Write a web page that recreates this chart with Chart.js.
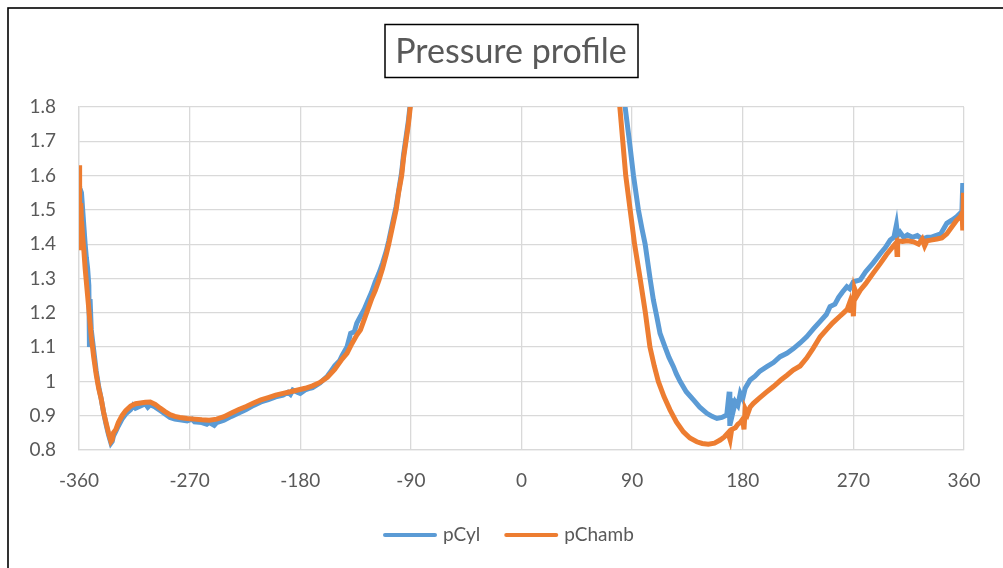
<!DOCTYPE html>
<html>
<head>
<meta charset="utf-8">
<script src="https://cdn.jsdelivr.net/npm/chart.js@4/dist/chart.umd.min.js"></script>
<style>
  html, body { margin: 0; padding: 0; background: #ffffff; }
  #wrap { width: 1003px; height: 568px; position: relative; }
</style>
</head>
<body>
<div id="wrap"><canvas id="c" width="1003" height="568"></canvas></div>
<script>
// Crank angle (deg) and pressure samples for the cylinder trace
const cylAngle = [
  -360, -359.5, -359, -358, -357, -356, -355, -354, -353, -352, -351.5, -351, -350, -348, -346, -344, -342, -340,
  -338, -336, -334, -333, -332, -330, -328, -325, -322, -318, -316, -314, -310, -306, -304, -302, -298, -294,
  -290, -286, -282, -278, -272, -268, -266, -260, -256, -254, -250, -248, -242, -236, -230, -224, -218, -212,
  -206, -200, -194, -190, -188, -186, -182, -180, -176, -172, -170, -164, -158, -155, -152, -148, -146, -142,
  -139, -136, -134, -131, -128, -125, -122, -119, -116, -113, -110, -108, -105, -102, -100, -97.5, -96, -94,
  -92, -90.5, -88, -85, -70, -50, -25, 0, 25, 50, 65, 72, 80, 84.3, 87.8, 91.1, 95.1, 98, 100.6, 104.6, 107.3,
  110, 112.7, 116.8, 120, 123.6, 126, 129, 134, 139.9, 145, 150.8, 155, 159, 163, 167, 169, 169.5, 170.5, 172,
  174, 176, 178, 180, 182, 186, 190, 194, 199.6, 205, 210.4, 215.9, 221, 226.7, 232, 238, 243, 248, 251,
  255, 258, 261, 264.7, 267, 270, 275.6, 280, 286, 292, 296, 300, 303, 305, 306, 308, 311, 314, 318, 322,
  326, 330, 333, 337, 341, 346, 350, 354, 358.3, 359, 359.5, 360
];
const cylPressure = [
  1.57, 1.46, 1.56, 1.55, 1.50, 1.45, 1.40, 1.36, 1.33, 1.28, 1.10, 1.24, 1.15, 1.09, 1.03, 0.985, 0.95, 0.91,
  0.875, 0.845, 0.82, 0.825, 0.84, 0.855, 0.87, 0.89, 0.905, 0.918, 0.93, 0.922, 0.928, 0.935, 0.925, 0.932, 0.925, 0.915,
  0.905, 0.895, 0.89, 0.888, 0.885, 0.89, 0.882, 0.88, 0.875, 0.88, 0.872, 0.88, 0.887, 0.898, 0.908, 0.918, 0.93, 0.94,
  0.947, 0.955, 0.96, 0.968, 0.962, 0.975, 0.968, 0.965, 0.975, 0.98, 0.982, 0.995, 1.015, 1.03, 1.045, 1.06, 1.075, 1.10,
  1.14, 1.145, 1.17, 1.19, 1.21, 1.235, 1.26, 1.29, 1.315, 1.345, 1.38, 1.41, 1.46, 1.51, 1.555, 1.61, 1.66, 1.71,
  1.76, 1.81, 1.9, 2.05, 2.8, 4.2, 5.6, 6.0, 5.3, 3.6, 2.6, 2.25, 1.95, 1.80, 1.70, 1.60, 1.50, 1.445, 1.40, 1.30, 1.237,
  1.19, 1.14, 1.10, 1.07, 1.043, 1.022, 1.00, 0.97, 0.946, 0.925, 0.907, 0.898, 0.892, 0.895, 0.902, 0.97, 0.87, 0.95, 0.91,
  0.94, 0.93, 0.965, 0.95, 0.98, 1.004, 1.015, 1.03, 1.043, 1.055, 1.072, 1.082, 1.095, 1.112, 1.13, 1.155, 1.175, 1.195, 1.218,
  1.225, 1.245, 1.26, 1.276, 1.27, 1.29, 1.296, 1.32, 1.345, 1.373, 1.39, 1.412, 1.42, 1.456, 1.425, 1.435, 1.42, 1.427, 1.42, 1.425,
  1.415, 1.42, 1.42, 1.425, 1.43, 1.461, 1.47, 1.48, 1.495, 1.578, 1.45, 1.50
];

// Crank angle (deg) and pressure samples for the chamber trace
const chambAngle = [
  -360, -359.5, -359, -358.5, -358, -357, -356, -355, -354, -353, -352, -351, -350, -348, -346, -344, -342, -340,
  -338, -336, -334, -333, -332, -330, -328, -325, -322, -318, -314, -310, -306, -302, -298, -294, -290, -286,
  -282, -278, -272, -266, -260, -254, -248, -242, -236, -230, -224, -218, -212, -206, -200, -194, -188, -182,
  -176, -170, -164, -158, -152, -146, -142, -138, -134, -131, -128, -125, -122, -119, -116, -113, -110, -108,
  -105, -102, -100, -97.5, -96, -94, -92, -90.5, -88, -85, -70, -50, -25, 0, 25, 50, 65, 72, 78, 80,
  82.4, 84.8, 88.4, 92, 96.5, 100.8, 104.5, 108, 111.3, 116, 120.8, 126, 131.7, 137, 142.6, 147, 152, 157,
  161.6, 165, 168, 169.7, 171, 174, 176, 178, 180, 181, 182, 184, 186, 188.7, 193, 199, 205, 211,
  216, 221, 226.7, 232, 237, 243, 248, 253, 259, 262, 265, 267, 268, 269, 270, 271, 273, 275.6,
  280, 286, 292, 297, 302, 305, 305.5, 306, 310, 314, 319, 323, 326, 328, 330, 333, 338, 342,
  346, 350, 354, 357, 358.5, 359, 359.5, 360
];
const chambPressure = [
  1.63, 1.45, 1.39, 1.52, 1.47, 1.42, 1.38, 1.33, 1.29, 1.25, 1.21, 1.17, 1.13, 1.07, 1.02, 0.98, 0.95, 0.91,
  0.88, 0.85, 0.825, 0.83, 0.85, 0.86, 0.88, 0.90, 0.915, 0.928, 0.935, 0.937, 0.939, 0.94, 0.933, 0.922, 0.912, 0.903,
  0.898, 0.895, 0.892, 0.89, 0.888, 0.887, 0.89, 0.897, 0.908, 0.918, 0.927, 0.937, 0.946, 0.953, 0.96, 0.965, 0.97, 0.975,
  0.98, 0.987, 0.997, 1.012, 1.035, 1.065, 1.082, 1.11, 1.135, 1.15, 1.18, 1.21, 1.24, 1.265, 1.295, 1.33, 1.37, 1.40,
  1.45, 1.50, 1.55, 1.60, 1.65, 1.70, 1.75, 1.80, 1.88, 2.0, 2.7, 4.0, 5.4, 5.8, 5.1, 3.4, 2.45, 2.1, 1.87, 1.80,
  1.70, 1.60, 1.50, 1.40, 1.30, 1.20, 1.10, 1.045, 1.00, 0.955, 0.917, 0.882, 0.853, 0.835, 0.824, 0.819, 0.817, 0.82,
  0.829, 0.838, 0.85, 0.83, 0.86, 0.865, 0.875, 0.88, 0.89, 0.86, 0.92, 0.905, 0.925, 0.936, 0.95, 0.968, 0.985, 1.004,
  1.018, 1.033, 1.045, 1.068, 1.095, 1.13, 1.15, 1.17, 1.19, 1.20, 1.21, 1.23, 1.20, 1.25, 1.19, 1.27, 1.25, 1.266,
  1.285, 1.315, 1.344, 1.37, 1.392, 1.405, 1.37, 1.41, 1.408, 1.41, 1.407, 1.40, 1.415, 1.395, 1.41, 1.412, 1.415, 1.418,
  1.43, 1.45, 1.47, 1.48, 1.49, 1.44, 1.55, 1.50
];

const seriesNames = ['pCyl', 'pChamb'];
const seriesColors = ['#5B9BD5', '#ED7D31'];
const xTicks = [-360, -270, -180, -90, 0, 90, 180, 270, 360];
const yTicks = [0.8, 0.9, 1, 1.1, 1.2, 1.3, 1.4, 1.5, 1.6, 1.7, 1.8];
const titleText = 'Pressure profile';

const FONT = 'Lato, "Liberation Sans", sans-serif';
const TEXT = '#595959';

function toPoints(xs, ys) { return xs.map((x, i) => ({ x: x, y: ys[i] })); }

// Outer frame, boxed title and a line-style legend below the plot
const decorations = {
  id: 'decorations',
  beforeDraw(chart) {
    const ctx = chart.ctx;
    ctx.save();
    ctx.fillStyle = '#ffffff';
    ctx.fillRect(0, 0, chart.width, chart.height);
    ctx.restore();
  },
  afterDraw(chart) {
    const ctx = chart.ctx;
    ctx.save();
    // frame
    ctx.strokeStyle = '#000000';
    ctx.lineWidth = 1.6;
    ctx.strokeRect(8, 8, chart.width + 20, chart.height + 20);

    // title in a box
    ctx.font = '34px ' + FONT;
    ctx.fillStyle = TEXT;
    ctx.textAlign = 'center';
    ctx.textBaseline = 'middle';
    ctx.fillText(titleText, 511, 52);
    ctx.strokeStyle = '#000000';
    ctx.lineWidth = 1.5;
    ctx.strokeRect(385, 24.5, 253, 53);

    // legend
    ctx.font = '19px ' + FONT;
    ctx.textAlign = 'left';
    ctx.textBaseline = 'middle';
    const ly = 535;
    let x = 383;
    chart.data.datasets.forEach((ds) => {
      ctx.strokeStyle = ds.borderColor;
      ctx.lineWidth = 4;
      ctx.lineCap = 'round';
      ctx.beginPath();
      ctx.moveTo(x + 2, ly);
      ctx.lineTo(x + 52, ly);
      ctx.stroke();
      ctx.fillStyle = TEXT;
      ctx.fillText(ds.label, x + 60, ly);
      x += 60 + ctx.measureText(ds.label).width + 24;
    });
    ctx.restore();
  }
};

new Chart(document.getElementById('c'), {
  type: 'scatter',
  data: {
    datasets: [
      {
        label: seriesNames[0],
        data: toPoints(cylAngle, cylPressure),
        borderColor: seriesColors[0],
        backgroundColor: seriesColors[0],
        borderWidth: 5,
        showLine: true,
        pointRadius: 0,
        tension: 0,
        order: 2
      },
      {
        label: seriesNames[1],
        data: toPoints(chambAngle, chambPressure),
        borderColor: seriesColors[1],
        backgroundColor: seriesColors[1],
        borderWidth: 5,
        showLine: true,
        pointRadius: 0,
        tension: 0,
        order: 1
      }
    ]
  },
  options: {
    responsive: false,
    animation: false,
    events: [],
    layout: { padding: { top: 107, right: 39, bottom: 0, left: 0 } },
    plugins: {
      legend: { display: false },
      title: { display: false },
      tooltip: { enabled: false }
    },
    scales: {
      x: {
        type: 'linear',
        min: -360,
        max: 360,
        afterBuildTicks(scale) { scale.ticks = xTicks.map(v => ({ value: v })); },
        afterFit(scale) { scale.height = 118; },
        grid: { color: '#d9d9d9', lineWidth: 1.3, drawTicks: false },
        border: { color: '#d9d9d9', width: 1.3 },
        ticks: {
          color: TEXT,
          font: { family: FONT, size: 19 },
          padding: 19,
          maxRotation: 0,
          callback: (v) => String(v)
        }
      },
      y: {
        type: 'linear',
        min: 0.8,
        max: 1.8,
        afterBuildTicks(scale) { scale.ticks = yTicks.map(v => ({ value: v })); },
        afterFit(scale) { scale.width = 79; },
        grid: { color: '#d9d9d9', lineWidth: 1.3, drawTicks: false },
        border: { color: '#d9d9d9', width: 1.3 },
        ticks: {
          color: TEXT,
          font: { family: FONT, size: 19 },
          padding: 23,
          callback: (v) => String(Math.round(v * 10) / 10)
        }
      }
    }
  },
  plugins: [decorations]
});
</script>
</body>
</html>
